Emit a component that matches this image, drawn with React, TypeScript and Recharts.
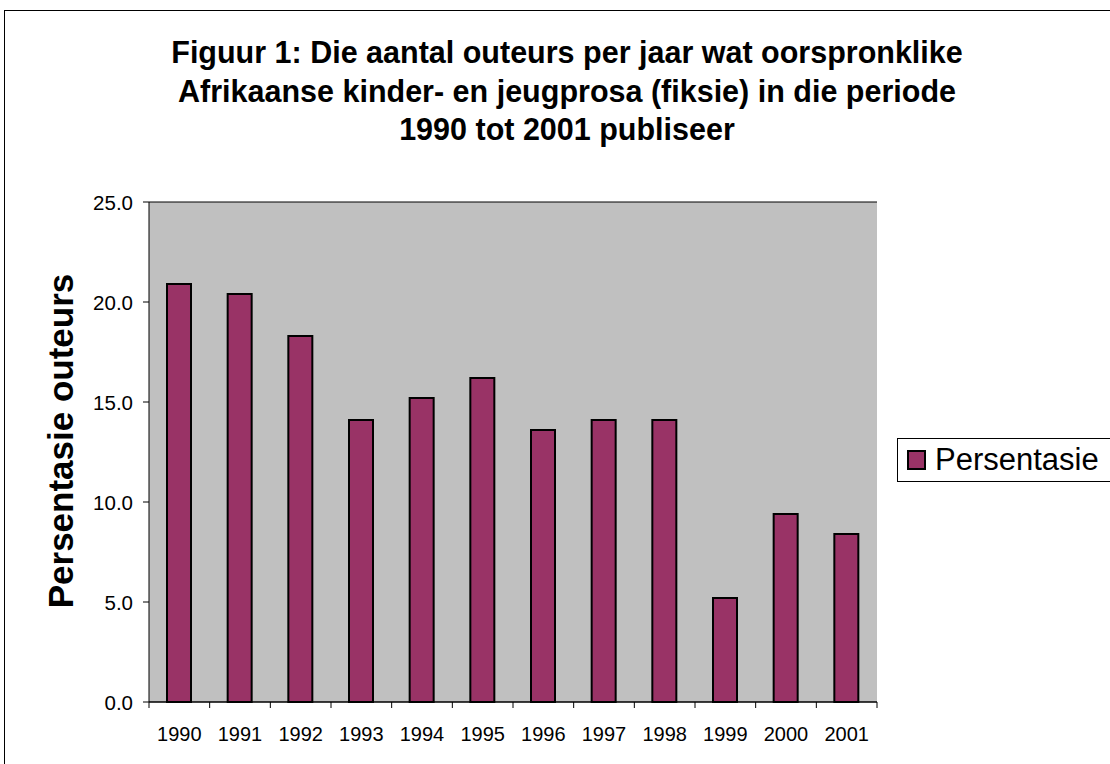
import React from "react";
import { BarChart, Bar, XAxis, YAxis, CartesianGrid } from "recharts";

const years = ["1990", "1991", "1992", "1993", "1994", "1995", "1996", "1997", "1998", "1999", "2000", "2001"];
const persentasie = [20.9, 20.4, 18.3, 14.1, 15.2, 16.2, 13.6, 14.1, 14.1, 5.2, 9.4, 8.4];
const yTicks = [0, 5, 10, 15, 20, 25];
const titleLines = [
  "Figuur 1: Die aantal outeurs per jaar wat oorspronklike",
  "Afrikaanse kinder- en jeugprosa (fiksie) in die periode",
  "1990 tot 2001 publiseer",
];
const yLabel = "Persentasie outeurs";
const seriesName = "Persentasie";

const data = years.map((y, i) => ({ year: y, value: persentasie[i] }));

const W = 1110;
const H = 764;
const PLOT_LEFT = 149;
const PLOT_RIGHT = 877;
const PLOT_TOP = 202;
const PLOT_BOTTOM = 702;
const BAND = (PLOT_RIGHT - PLOT_LEFT) / years.length;
const FONT = "'Liberation Sans', Arial, sans-serif";
const BAR_COLOR = "#993366";

const YTick = (props: any) => {
  const { x, y, payload } = props;
  return (
    <text x={x} y={y} dy={7.5} textAnchor="end" fontFamily={FONT} fontSize={20.5} fill="#000">
      {Number(payload.value).toFixed(1)}
    </text>
  );
};

const XTick = (props: any) => {
  const { x, y, payload, index } = props;
  const top = PLOT_BOTTOM;
  return (
    <g>
      <line x1={x - BAND / 2} x2={x - BAND / 2} y1={top} y2={top + 6} stroke="#000" strokeWidth={1} />
      {index === years.length - 1 && (
        <line x1={x + BAND / 2} x2={x + BAND / 2} y1={top} y2={top + 6} stroke="#000" strokeWidth={1} />
      )}
      <text x={x} y={y} dy={31} textAnchor="middle" fontFamily={FONT} fontSize={20} fill="#000">
        {payload.value}
      </text>
    </g>
  );
};

export default function App() {
  return (
    <div style={{ position: "absolute", left: 0, top: 0, width: W, height: H, overflow: "hidden", background: "#fff" }}>
      <div
        style={{
          position: "absolute",
          left: 4,
          top: 10,
          width: W + 20,
          height: H + 20,
          border: "1px solid #000",
          boxSizing: "border-box",
        }}
      />
      <div style={{ position: "absolute", left: 0, top: 0 }}>
        <BarChart
          width={W}
          height={H}
          data={data}
          margin={{ top: PLOT_TOP, right: W - PLOT_RIGHT, bottom: 0, left: 0 }}
          barCategoryGap={0}
        >
          <CartesianGrid vertical={false} stroke="#000" fill="#c0c0c0" fillOpacity={1} />
          <XAxis
            dataKey="year"
            height={H - PLOT_BOTTOM}
            tickLine={false}
            axisLine={{ stroke: "#000", strokeWidth: 1 }}
            tick={<XTick />}
            interval={0}
          />
          <YAxis
            yAxisId="left"
            width={PLOT_LEFT}
            domain={[0, 25]}
            ticks={yTicks}
            tickSize={6}
            tickMargin={10}
            tickLine={{ stroke: "#000" }}
            axisLine={{ stroke: "#000", strokeWidth: 1 }}
            tick={<YTick />}
          />
          <YAxis
            yAxisId="right"
            orientation="right"
            width={0}
            domain={[0, 25]}
            tick={false}
            tickLine={false}
            axisLine={{ stroke: "#808080", strokeWidth: 1 }}
          />
          <Bar
            yAxisId="left"
            dataKey="value"
            name={seriesName}
            fill={BAR_COLOR}
            stroke="#000"
            strokeWidth={2}
            barSize={24}
            isAnimationActive={false}
          />
        </BarChart>
      </div>
      <svg style={{ position: "absolute", left: 0, top: 0 }} width={W} height={H} pointerEvents="none">
        {titleLines.map((t, i) => (
          <text
            key={i}
            x={567}
            y={63 + i * 38.7}
            textAnchor="middle"
            fontFamily={FONT}
            fontWeight="bold"
            fontSize={30.5}
            fill="#000"
          >
            {t}
          </text>
        ))}
        <g transform={`translate(73,441) rotate(-90)`}>
          <text x={0} y={0} textAnchor="middle" fontFamily={FONT} fontWeight="bold" fontSize={35} fill="#000">
            {yLabel}
          </text>
        </g>
        <rect x={897.5} y={438.5} width={300} height={43} fill="#fff" stroke="#000" strokeWidth={1} />
        <rect x={908} y={451} width={17} height={18} fill={BAR_COLOR} stroke="#000" strokeWidth={2} />
        <text x={935} y={470} fontFamily={FONT} fontSize={31} fill="#000">
          {seriesName}
        </text>
      </svg>
    </div>
  );
}
